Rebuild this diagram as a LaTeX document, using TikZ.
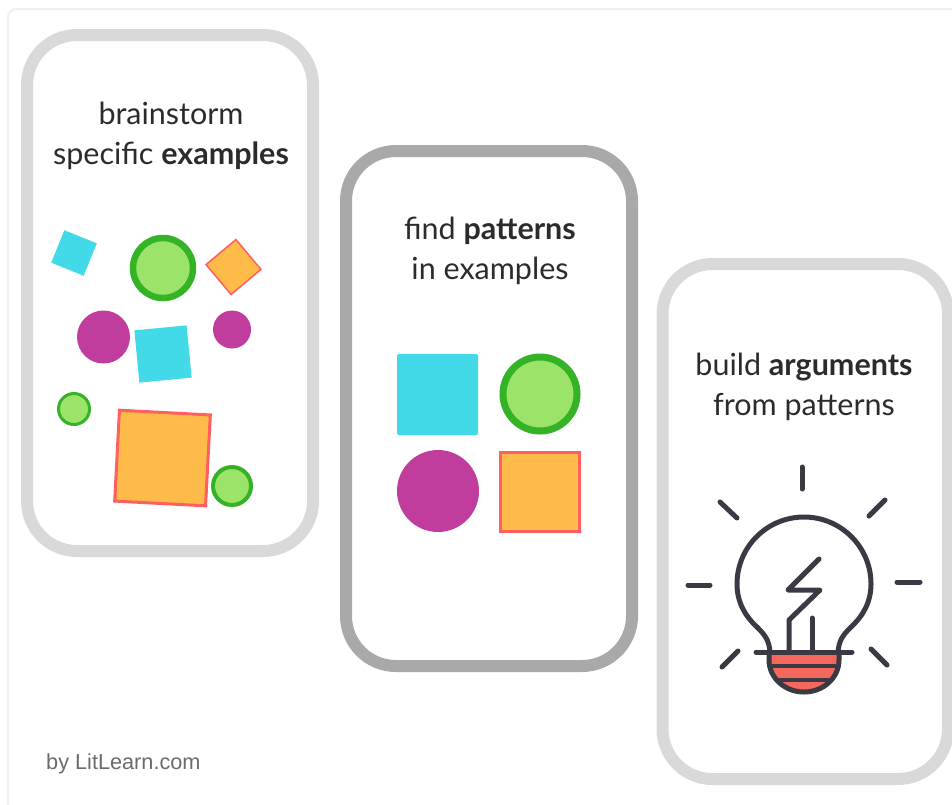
\documentclass[tikz,border=0pt]{standalone}
\usepackage{fontspec}
\setmainfont{Lato}
\newfontfamily\creditfont{Liberation Sans}
\definecolor{cardlight}{HTML}{D9D9D9}
\definecolor{carddark}{HTML}{A9A9A9}
\definecolor{framegray}{HTML}{F0F0F0}
\definecolor{inkgray}{HTML}{2B2B2B}
\definecolor{creditgray}{HTML}{6B6B6B}
\definecolor{cyanfill}{HTML}{42D9E8}
\definecolor{greenfill}{HTML}{9BE369}
\definecolor{greenline}{HTML}{35B326}
\definecolor{magentafill}{HTML}{C13D9D}
\definecolor{orangefill}{HTML}{FFBB4A}
\definecolor{redline}{HTML}{FF5F5F}
\definecolor{bulbink}{HTML}{3A3A45}
\definecolor{bulbred}{HTML}{F4675C}
\tikzset{
    card/.style={line width=12pt, rounded corners=50pt},
    caption/.style={align=center, text=inkgray, font=\fontsize{30.5}{40}\selectfont, inner sep=0pt},
    cyansq/.style={rectangle, fill=cyanfill, inner sep=0pt, minimum size=#1},
    orangesq/.style={rectangle, fill=orangefill, draw=redline, inner sep=0pt, minimum size=#1},
    greendot/.style={circle, fill=greenfill, draw=greenline, inner sep=0pt, minimum size=#1},
    magentadot/.style={circle, fill=magentafill, inner sep=0pt, minimum size=#1},
    bulbline/.style={draw=bulbink, line width=5pt, line cap=round, line join=round},
}

\begin{document}
\begin{tikzpicture}[x=1pt, y=-1pt]
        \useasboundingbox (0, 0) rectangle (952, 804);
        \draw [framegray, line width=2pt, rounded corners=8pt] (8, 830) -- (8, 9) -- (980, 9);

        % first card
        \draw [card, cardlight] (27, 35) rectangle (313, 551);
        \node [caption] (brainstorm) at (171, 135.5) {brainstorm\\specific \textbf{examples}};
        \node [cyansq=35pt, rotate=-22] (cyanone) at (74, 253) {};
        \node [greendot=60pt, line width=6.5pt] (greenone) at (163, 268) {};
        \node [orangesq=39pt, line width=1.5pt, rotate=-50] (orangeone) at (233.5, 267) {};
        \node [magentadot=53pt] (magentaone) at (103.5, 337) {};
        \node [magentadot=38pt] (magentatwo) at (232, 329.5) {};
        \node [cyansq=52.5pt, rotate=5.5] (cyantwo) at (163, 354) {};
        \node [greendot=31pt, line width=3pt] (greentwo) at (74, 409) {};
        \node [orangesq=91pt, line width=3pt, rotate=-3] (orangetwo) at (162.5, 458) {};
        \node [greendot=38pt, line width=4pt] (greenthree) at (232, 486) {};

        % second card
        \draw [card, carddark] (346, 151) rectangle (632, 666);
        \node [caption] (patterns) at (490, 250.5) {find \textbf{patterns}\\in examples};
        \node [cyansq=81pt, rounded corners=2pt] (cyanthree) at (437.5, 394.5) {};
        \node [greendot=74pt, line width=7pt] (greenfour) at (540, 394) {};
        \node [magentadot=82pt] (magentathree) at (438, 491) {};
        \node [orangesq=78.5pt, line width=3pt] (orangethree) at (540, 492) {};

        % third card
        \draw [card, cardlight] (662.5, 264) rectangle (948, 779);
        \node [caption] (arguments) at (804, 386.5) {build \textbf{arguments}\\from patterns};

        % bulb rays
        \draw [bulbline] (802, 467) -- (802, 489);
        \draw [bulbline] (720, 502) -- (737, 518);
        \draw [bulbline] (885, 500) -- (869, 516);
        \draw [bulbline] (688, 585) -- (710, 585);
        \draw [bulbline] (897, 582) -- (920, 582);
        \draw [bulbline] (722, 667) -- (738, 651);
        \draw [bulbline] (871, 649) -- (887, 665);

        % bulb glass
        \draw [bulbline] (770, 652) .. controls (769, 640) and (765, 635) .. (757, 627)
            .. controls (745, 616) and (737, 602) .. (737, 584)
            arc [start angle=180, end angle=360, radius=67]
            .. controls (871, 602) and (863, 616) .. (851, 627)
            .. controls (843, 635) and (839, 640) .. (838, 652);
        \draw [bulbline] (819, 559) -- (788, 590) -- (820, 590) -- (789, 620) -- (789, 652);
        \draw [bulbline] (812, 618) -- (812, 652);

        % bulb base
        \begin{scope}
            \clip (769, 652) -- (769, 660) arc [start angle=180, end angle=0, x radius=35, y radius=32] -- (839, 652) -- cycle;
            \fill [bulbred] (760, 645) rectangle (850, 700);
            \draw [bulbink, line width=4pt] (760, 666) -- (850, 666);
            \draw [bulbink, line width=4pt] (760, 680) -- (850, 680);
        \end{scope}
        \draw [bulbline] (769, 652) -- (769, 660) arc [start angle=180, end angle=0, x radius=35, y radius=32] -- (839, 652);
        \draw [bulbline] (756, 652) -- (852, 652);

        \node [anchor=base west, inner sep=0pt, text=creditgray, font=\creditfont\fontsize{21.7}{26}\selectfont] (credit) at (46, 769) {by LitLearn.com};
\end{tikzpicture}
\end{document}
